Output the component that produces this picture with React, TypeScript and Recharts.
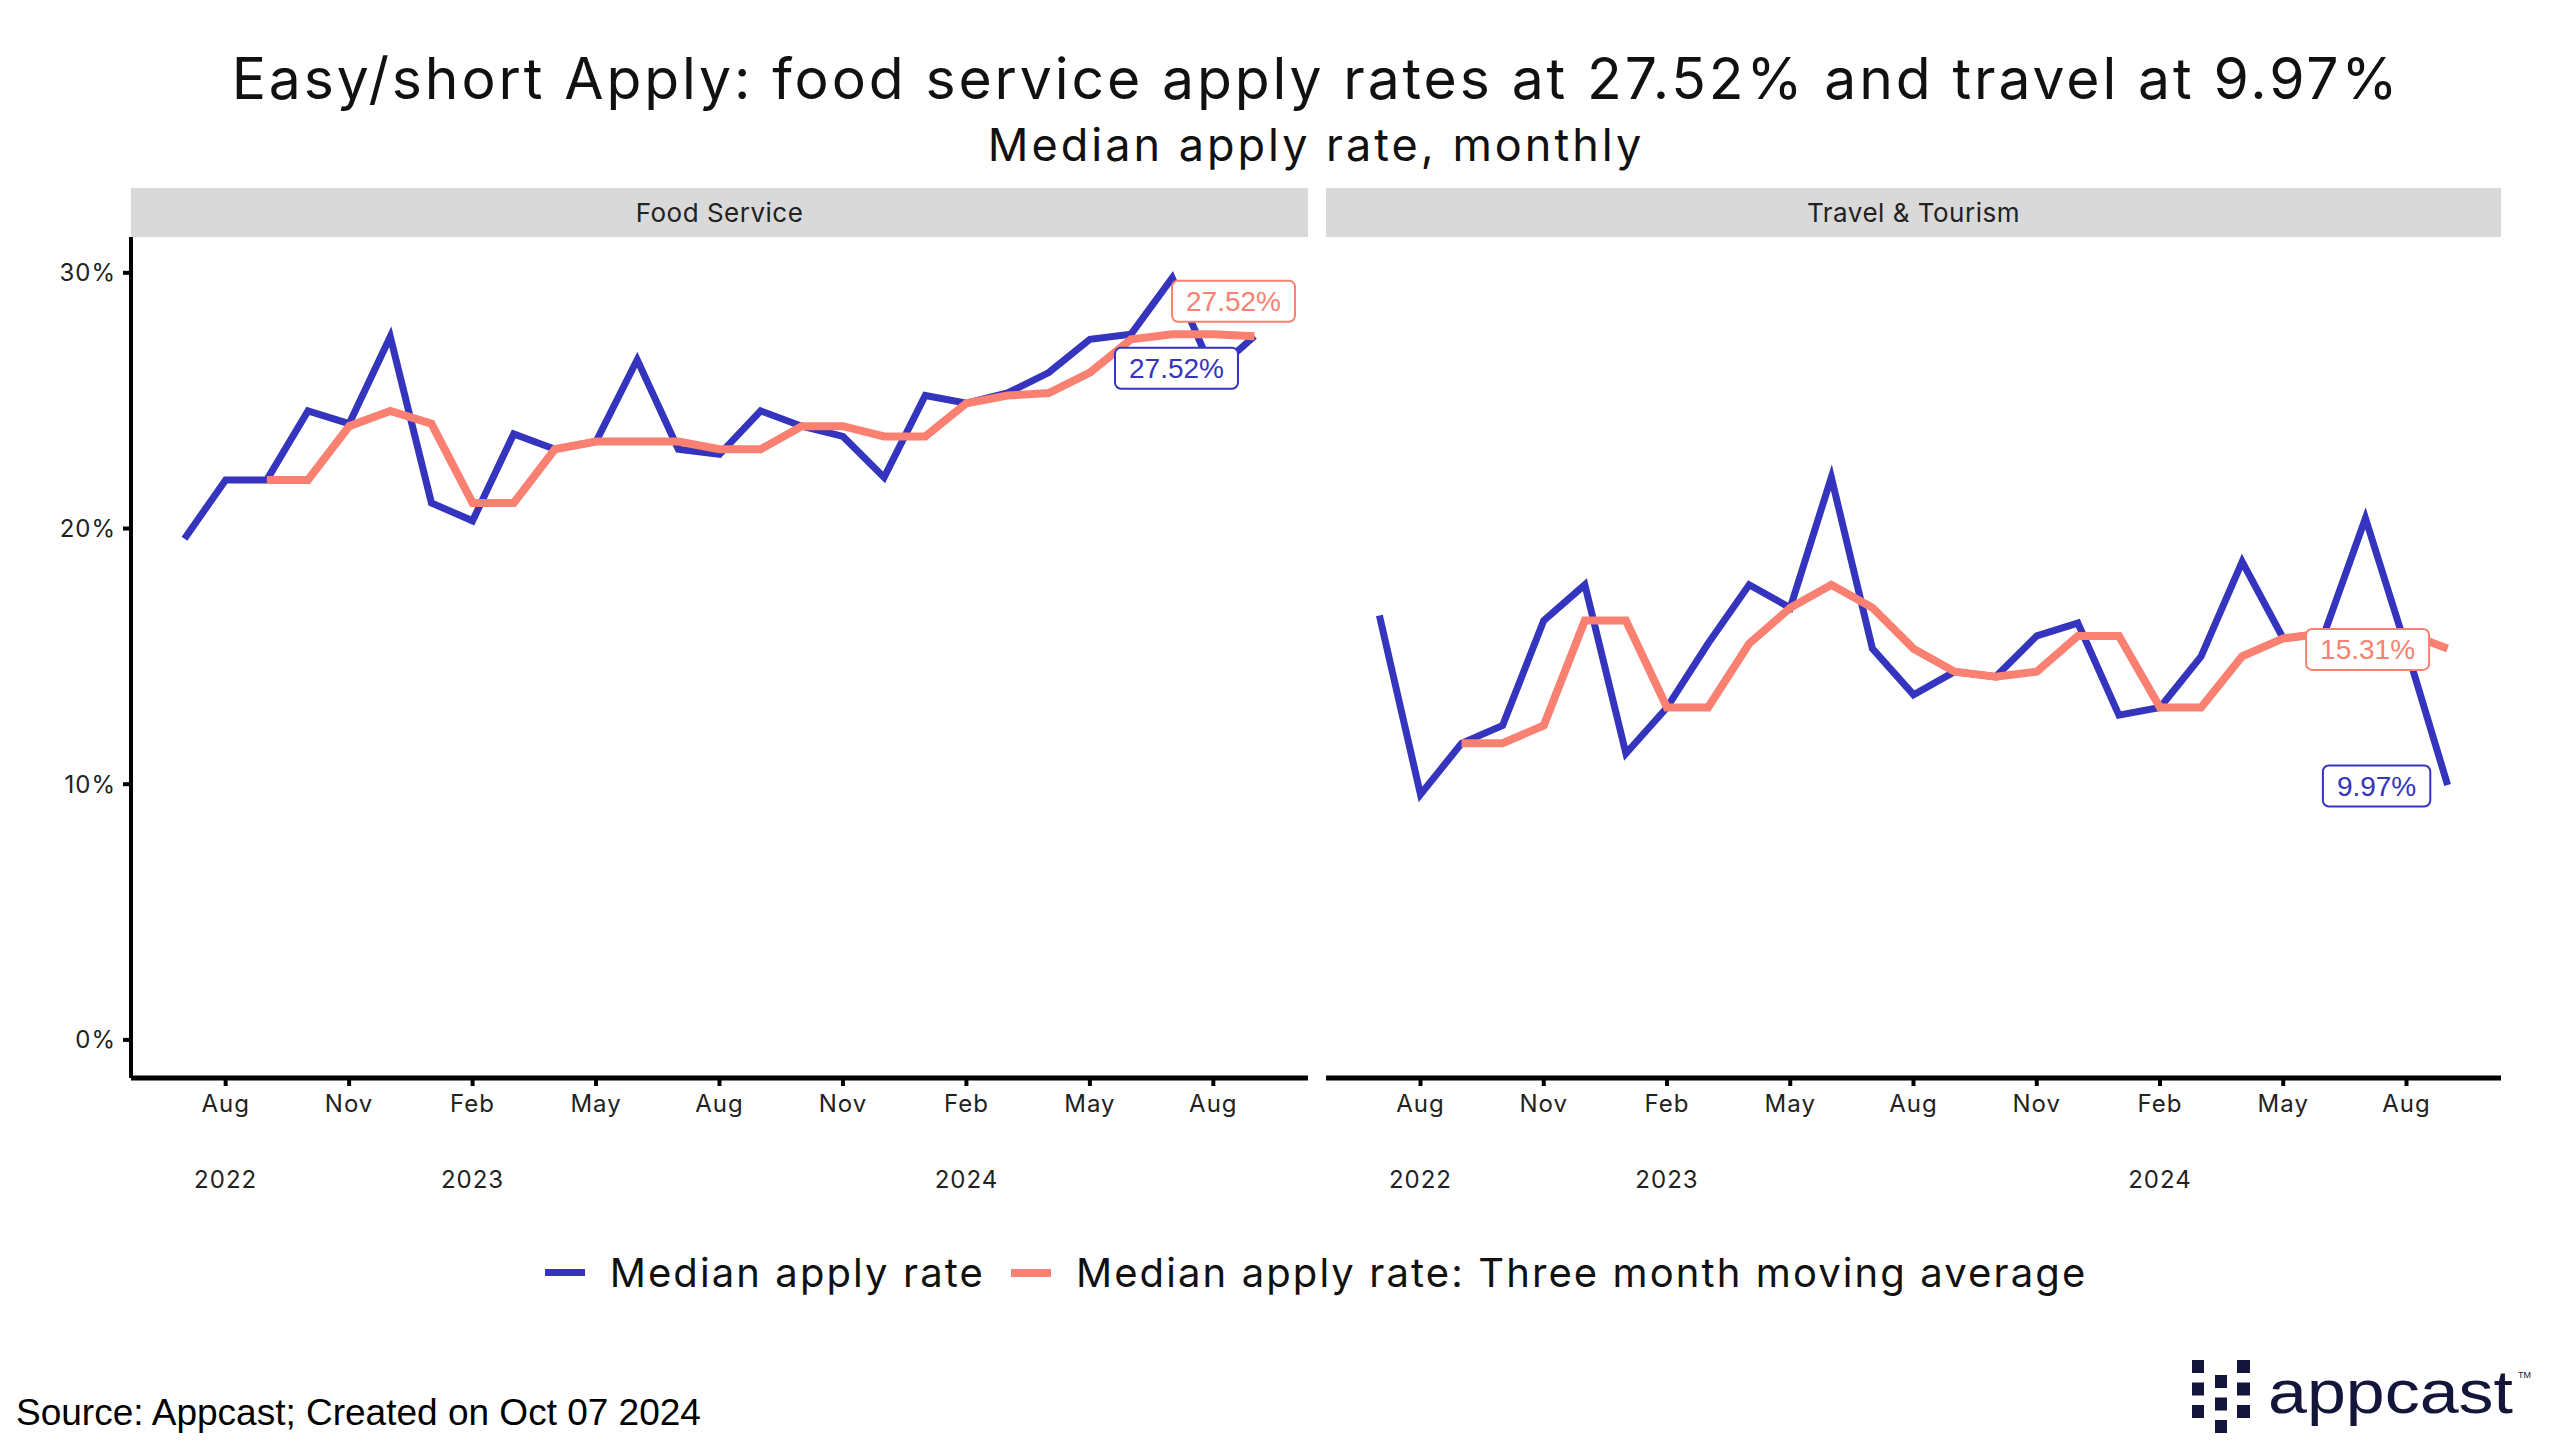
import React from "react";
import { LineChart, Line, XAxis, YAxis, LabelList } from "recharts";

// Monthly periods, Jul 2022 .. Sep 2024
const periods = [
  "2022-07", "2022-08", "2022-09", "2022-10", "2022-11", "2022-12",
  "2023-01", "2023-02", "2023-03", "2023-04", "2023-05", "2023-06",
  "2023-07", "2023-08", "2023-09", "2023-10", "2023-11", "2023-12",
  "2024-01", "2024-02", "2024-03", "2024-04", "2024-05", "2024-06",
  "2024-07", "2024-08", "2024-09",
];

const foodRate = [
  19.6, 21.9, 21.9, 24.6, 24.1, 27.5, 21.0, 20.3, 23.7, 23.1, 23.4, 26.6, 23.1, 22.9,
  24.6, 24.0, 23.6, 22.0, 25.2, 24.9, 25.3, 26.1, 27.4, 27.6, 29.8, 26.1, 27.52,
];
const foodAvg = [
  null, null, 21.9, 21.9, 24.0, 24.6, 24.1, 21.0, 21.0, 23.1, 23.4, 23.4, 23.4, 23.1,
  23.1, 24.0, 24.0, 23.6, 23.6, 24.9, 25.2, 25.3, 26.1, 27.4, 27.6, 27.6, 27.52,
];
const travelRate = [
  16.6, 9.6, 11.6, 12.3, 16.4, 17.8, 11.2, 13.0, 15.5, 17.8, 16.9, 22.0, 15.3, 13.5,
  14.4, 14.2, 15.8, 16.3, 12.7, 13.0, 15.0, 18.7, 15.7, 15.9, 20.4, 15.3, 9.97,
];
const travelAvg = [
  null, null, 11.6, 11.6, 12.3, 16.4, 16.4, 13.0, 13.0, 15.5, 16.9, 17.8, 16.9, 15.3,
  14.4, 14.2, 14.4, 15.8, 15.8, 13.0, 13.0, 15.0, 15.7, 15.9, 15.9, 15.9, 15.31,
];

// x ticks (index into periods) and their labels
const tickIndex = [1, 4, 7, 10, 13, 16, 19, 22, 25];
const tickMonths = ["Aug", "Nov", "Feb", "May", "Aug", "Nov", "Feb", "May", "Aug"];
const tickYears = ["2022", "", "2023", "", "", "", "2024", "", ""];
const yTicks = [0, 10, 20, 30];

const BLUE = "#3434BE";
const SALMON = "#FA8072";
const FONT = "Inter, 'Noto Sans', sans-serif";

const foodData = periods.map((p, i) => ({ i, period: p, rate: foodRate[i], avg: foodAvg[i] }));
const travelData = periods.map((p, i) => ({ i, period: p, rate: travelRate[i], avg: travelAvg[i] }));

const MonthTick = (props: any) => {
  const { x, y, payload } = props;
  const k = tickIndex.indexOf(payload.value);
  return (
    <g>
      <text x={x} y={y} dy={24} textAnchor="middle" fontSize={24} fill="#222" fontFamily={FONT} letterSpacing={1}>
        {tickMonths[k]}
      </text>
      {tickYears[k] ? (
        <text x={x} y={y} dy={100} textAnchor="middle" fontSize={24} fill="#222" fontFamily={FONT} letterSpacing={1}>
          {tickYears[k]}
        </text>
      ) : null}
    </g>
  );
};

// boxed label for the last point only
const lastLabel = (color: string, dx: number, dy: number) => (props: any) => {
  const { x, y, value, index } = props;
  if (index !== periods.length - 1 || value == null) return null;
  const txt = `${Number(value).toFixed(2)}%`;
  const fs = 28;
  let w = 0;
  for (const ch of txt) w += ch === "." ? 0.278 : ch === "%" ? 0.889 : 0.556;
  const bw = w * fs + 28;
  const bh = 41;
  const cx = x + dx;
  const cy = y + dy;
  return (
    <g>
      <rect x={cx - bw / 2} y={cy - bh / 2} width={bw} height={bh} rx={6} fill="#fff" stroke={color} strokeWidth={2} />
      <text x={cx} y={cy + 10} textAnchor="middle" fontSize={fs} fill={color} fontFamily="'Liberation Sans', Arial, sans-serif">
        {txt}
      </text>
    </g>
  );
};

function Panel({ data, showY, labels }: { data: any[]; showY: boolean; labels: number[] }) {
  const width = showY ? 1308 : 1175;
  return (
    <LineChart width={width} height={1000} data={data} margin={{ top: 0, right: 0, left: 0, bottom: 0 }}>
      <XAxis
        dataKey="i"
        type="number"
        domain={[-1.3, 27.3]}
        ticks={tickIndex}
        allowDataOverflow
        height={159}
        tick={<MonthTick />}
        tickSize={8}
        tickMargin={2}
        tickLine={{ stroke: "#000", strokeWidth: 4 }}
        axisLine={{ stroke: "#000", strokeWidth: 5 }}
      />
      <YAxis
        type="number"
        domain={[-1.49, 31.4]}
        ticks={yTicks}
        allowDataOverflow
        hide={!showY}
        width={showY ? 131 : 0}
        tickFormatter={(v) => `${v}%`}
        tick={{ fill: "#222", fontSize: 24, fontFamily: FONT, letterSpacing: 1 }}
        tickSize={8}
        tickMargin={7}
        tickLine={{ stroke: "#000", strokeWidth: 4 }}
        axisLine={{ stroke: "#000", strokeWidth: 4 }}
      />
      <Line type="linear" dataKey="rate" stroke={BLUE} strokeWidth={7} dot={false} isAnimationActive={false}>
        <LabelList dataKey="rate" content={lastLabel(BLUE, labels[0], labels[1])} />
      </Line>
      <Line type="linear" dataKey="avg" stroke={SALMON} strokeWidth={8} dot={false} isAnimationActive={false}>
        <LabelList dataKey="avg" content={lastLabel(SALMON, labels[2], labels[3])} />
      </Line>
    </LineChart>
  );
}

const strip: React.CSSProperties = {
  position: "absolute",
  top: 188,
  height: 49,
  background: "#D9D9D9",
  display: "flex",
  alignItems: "center",
  justifyContent: "center",
  fontSize: 26,
  letterSpacing: 0.5,
  color: "#222",
};

export default function App() {
  return (
    <div style={{ position: "absolute", left: 0, top: 0, width: 2560, height: 1455, background: "#fff", fontFamily: FONT, overflow: "hidden" }}>
      <div style={{ position: "absolute", left: 0, width: 2632, top: 47, textAlign: "center", fontSize: 57, lineHeight: "64px", letterSpacing: 2.9, color: "#111" }}>
        Easy/short Apply: food service apply rates at 27.52% and travel at 9.97%
      </div>
      <div style={{ position: "absolute", left: 0, width: 2632, top: 119, textAlign: "center", fontSize: 45, lineHeight: "52px", letterSpacing: 3, color: "#111" }}>
        Median apply rate, monthly
      </div>

      <div style={{ ...strip, left: 131, width: 1177 }}>Food Service</div>
      <div style={{ ...strip, left: 1326, width: 1175 }}>Travel &amp; Tourism</div>

      <div style={{ position: "absolute", left: 0, top: 237 }}>
        <Panel data={foodData} showY labels={[-78, 32, -21, -35]} />
      </div>
      <div style={{ position: "absolute", left: 1326, top: 237 }}>
        <Panel data={travelData} showY={false} labels={[-71, 1, -80, 1]} />
      </div>

      <div style={{ position: "absolute", left: 0, width: 2632, top: 1248, display: "flex", justifyContent: "center", alignItems: "center", fontSize: 40, letterSpacing: 2.1, color: "#111" }}>
        <span style={{ display: "inline-block", width: 40, height: 7, background: BLUE, marginRight: 25 }} />
        <span style={{ marginRight: 26 }}>Median apply rate</span>
        <span style={{ display: "inline-block", width: 40, height: 8, background: SALMON, marginRight: 25 }} />
        <span>Median apply rate: Three month moving average</span>
      </div>

      <div style={{ position: "absolute", left: 16, top: 1392, fontSize: 37, fontFamily: "'Liberation Sans', Arial, sans-serif", color: "#000" }}>
        Source: Appcast; Created on Oct 07 2024
      </div>

      <svg style={{ position: "absolute", left: 2180, top: 1350 }} width={370} height={100}>
        {[0, 1, 2].map((r) => (
          <g key={r}>
            <rect x={12} y={10 + r * 22.5} width={12} height={13} fill="#14153a" />
            <rect x={35} y={25 + r * 22.5} width={12} height={13} fill="#14153a" />
            <rect x={57} y={10 + r * 22.5} width={13} height={13} fill="#14153a" />
          </g>
        ))}
        <text x={88} y={63} fontSize={62} fill="#14153a" fontFamily="'Liberation Sans', Arial, sans-serif" textLength={245} lengthAdjust="spacingAndGlyphs">
          appcast
        </text>
        <text x={338} y={28} fontSize={9} fill="#14153a" fontFamily="'Liberation Sans', Arial, sans-serif">TM</text>
      </svg>
    </div>
  );
}
